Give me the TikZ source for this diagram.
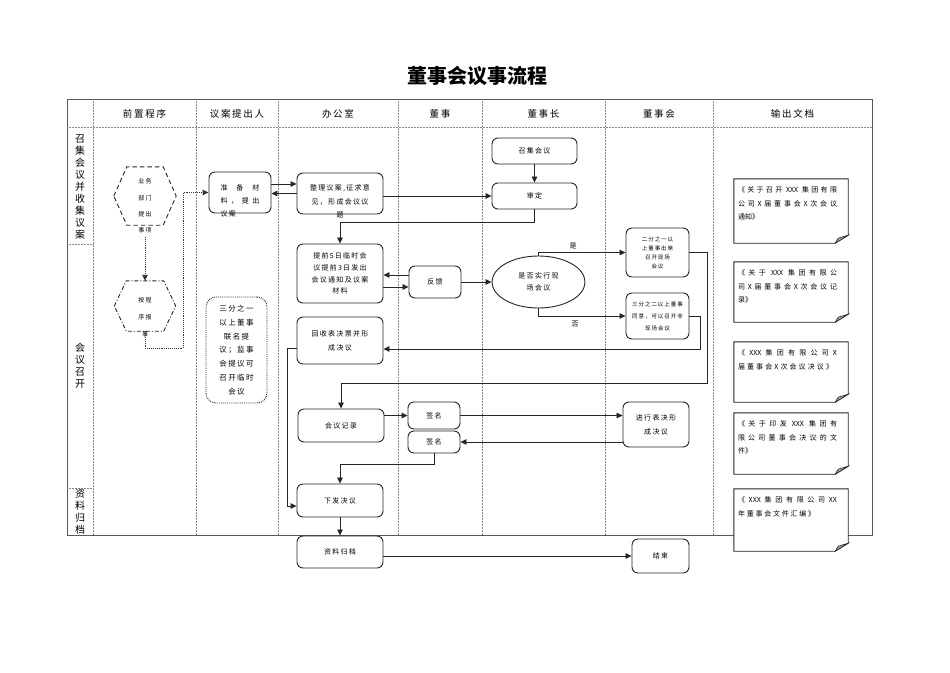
\documentclass[tikz,border=0pt]{standalone}
\usepackage{fontspec}
\setmainfont{Noto Sans CJK SC}[LetterSpace=18]
\newfontfamily\nolsfont{Noto Sans CJK SC}
\usetikzlibrary{arrows.meta,shapes.geometric}
\makeatletter
\newcommand\spreadline[2]{\makebox[#1][s]{\spread@a#2\@nil}}
\def\spread@a#1#2\@nil{#1\ifx\relax#2\relax\else\hfill\spread@a#2\@nil\fi}
\makeatother
\newcommand\myfs[2]{\fontsize{#1}{#2}\selectfont}
\newcommand\docshape[1]{%
  \draw[black!85, line width=0.9pt, fill=white] (#1.north west) -- (#1.north east) -- ([yshift=8]#1.south east) -- ([xshift=-13]#1.south east) -- (#1.south west) -- cycle;
  \draw[black!85, line width=0.6pt, fill=black!35] ([yshift=8]#1.south east) -- ([xshift=-13]#1.south east) -- ([xshift=-10,yshift=5]#1.south east) -- cycle;}
\begin{document}
\begin{tikzpicture}[x=1pt,y=-1pt,
  gridline/.style={black!45, densely dotted, line width=0.5pt},
  framel/.style={draw=black!65, line width=1pt},
  box/.style={draw=black!85, rounded corners=6pt, line width=0.9pt, fill=white, inner sep=0pt, align=center, font=\myfs{7}{12}},
  txt/.style={inner sep=0pt, align=center, font=\myfs{7}{12}},
  conn/.style={draw=black!85, line width=0.8pt, -{Triangle[length=6pt,width=5.5pt]}},
  dotconn/.style={draw=black!80, densely dotted, line width=0.9pt, -{Triangle[length=6pt,width=5.5pt]}},
  docnode/.style={inner sep=0pt, minimum width=114},
  doctext/.style={inner sep=0pt, align=left, font=\nolsfont\myfs{7}{13.5}, anchor=north west},
  head/.style={font=\myfs{9.5}{11}, inner sep=0pt},
  rowlab/.style={font=\myfs{10}{12}, inner sep=0pt, align=center},
]
\fill[white] (0,0) rectangle (950,672);
\useasboundingbox (0,0) rectangle (950,672);

% title
\node[font=\nolsfont\bfseries\myfs{20}{24}] (title) at (477,76) {董事会议事流程};

% grid
\foreach \x in {93,196,278,398,482,605,713} \draw[gridline] (\x,99) -- (\x,535);
\draw[gridline] (67,127) -- (872,127);
\draw[gridline] (67,244) -- (93,244);
\draw[gridline] (67,488) -- (93,488);
\draw[framel] (67,99) rectangle (872,535);

% headers
\node[head] (hd1) at (144.5,114) {前置程序};
\node[head] (hd2) at (237,114) {议案提出人};
\node[head] (hd3) at (338,114) {办公室};
\node[head] (hd4) at (440,114) {董事};
\node[head] (hd5) at (543.5,114) {董事长};
\node[head] (hd6) at (659,114) {董事会};
\node[head] (hd7) at (792.5,114) {输出文档};

% row labels
\node[rowlab] (r1) at (80,187) {召\\集\\会\\议\\并\\收\\集\\议\\案};
\node[rowlab] (r2) at (80,366) {会\\议\\召\\开};
\node[rowlab] (r3) at (80,512) {资\\料\\归\\档};

% hexagons
\node[inner sep=0pt, minimum width=62, minimum height=58] (h1) at (145,196) {};
\draw[black!85, dash pattern=on 4.5pt off 3pt, line width=0.9pt] (h1.west) -- ([xshift=13]h1.north west) -- ([xshift=-13]h1.north east) -- (h1.east) -- ([xshift=-13]h1.south east) -- ([xshift=13]h1.south west) -- cycle;
\node[txt, font=\myfs{6}{16.3}] (h1t) at (145,206) {业务\\部门\\提出\\事项};
\node[inner sep=0pt, minimum width=61, minimum height=50] (h2) at (145,306) {};
\draw[black!85, dash pattern=on 4pt off 2pt on 1pt off 2pt, line width=0.9pt] (h2.west) -- ([xshift=12]h2.north west) -- ([xshift=-12]h2.north east) -- (h2.east) -- ([xshift=-12]h2.south east) -- ([xshift=12]h2.south west) -- cycle;
\node[txt, font=\myfs{6}{17}] (h2t) at (145,317) {按程\\序报\\事};

% boxes
\node[box, minimum width=62, minimum height=41] (prep) at (240,192.5) {};
\node[txt, align=left, font=\myfs{7}{13}] (prept) at (240,200.5) {\spreadline{39pt}{准备材}\\\spreadline{39pt}{料，提出}\\议案};
\node[box, minimum width=86, minimum height=41] (sort) at (340,193.5) {};
\node[txt, font=\myfs{7}{13.5}] (sortt) at (340,201.5) {整理议案,征求意\\见，形成会议议\\题};
\node[box, minimum width=85, minimum height=26] (zhaoji) at (534.5,151) {召集会议};
\node[box, minimum width=85, minimum height=26] (shending) at (534.5,196) {审定};
\node[box, minimum width=86, minimum height=59, font=\myfs{7}{11.7}] (notify) at (340,273.5) {提前5日临时会\\议提前3日发出\\会议通知及议案\\材料};
\node[box, minimum width=52, minimum height=32] (fankui) at (435,282) {反馈};
\node[draw=black!85, ellipse, line width=0.9pt, fill=white, minimum width=93, minimum height=52, inner sep=0pt, align=center, font=\myfs{7}{12}] (ell) at (538.5,282) {是否实行现\\场会议};
\node[box, minimum width=63, minimum height=49, font=\myfs{5.5}{9}] (shi) at (657.5,252.5) {二分之一以\\上董事出席\\召开现场\\会议};
\node[box, minimum width=63, minimum height=46, font=\myfs{5.5}{12}] (fou) at (657.5,316) {三分之二以上董事\\同意，可以召开非\\现场会议};
\node[box, minimum width=86, minimum height=47, font=\myfs{7}{14}] (huishou) at (340,340.5) {回收表决票并形\\成决议};
\node[box, densely dotted, rounded corners=10pt, minimum width=61, minimum height=106, font=\myfs{7.5}{13.8}] (sanfen) at (236.5,350) {三分之一\\以上董事\\联名提\\议；监事\\会提议可\\召开临时\\会议};
\node[box, minimum width=86, minimum height=33] (jilu) at (341,425.5) {会议记录};
\node[box, minimum width=52, minimum height=27] (qm1) at (434,415.5) {签名};
\node[box, minimum width=52, minimum height=22] (qm2) at (434,442) {签名};
\node[box, minimum width=66, minimum height=45, font=\myfs{7}{14}] (biaojue) at (656,424.5) {进行表决形\\成决议};
\node[box, minimum width=86, minimum height=33] (xiafa) at (340,500.5) {下发决议};
\node[box, minimum width=86, minimum height=32] (ziliao) at (340,552) {资料归档};
\node[box, minimum width=57, minimum height=34] (jieshu) at (660.5,556) {结束};

\node[txt] (yes) at (573,246) {是};
\node[txt] (no) at (575,324) {否};

% documents
\node[docnode, minimum height=64] (d1) at (791,211) {};
\node[docnode, minimum height=60] (d2) at (791,292) {};
\node[docnode, minimum height=60] (d3) at (791,372) {};
\node[docnode, minimum height=61] (d4) at (791,443.5) {};
\node[docnode, minimum height=62] (d5) at (791,520) {};
\docshape{d1}\docshape{d2}\docshape{d3}\docshape{d4}\docshape{d5}
\node[doctext] (d1t) at ([xshift=4,yshift=-8]d1.north west) {\spreadline{99pt}{《关于召开{ XXX }集团有限}\\\spreadline{99pt}{公司X届董事会X次会议}\\通知》};
\node[doctext] (d2t) at ([xshift=4,yshift=-8]d2.north west) {\spreadline{99pt}{《关于{ XXX }集团有限公}\\\spreadline{99pt}{司X届董事会X次会议记}\\录》};
\node[doctext] (d3t) at ([xshift=4,yshift=-8]d3.north west) {\spreadline{99pt}{《{XXX}集团有限公司X}\\\spreadline{95pt}{届董事会X次会议决议》}};
\node[doctext] (d4t) at ([xshift=4,yshift=-8]d4.north west) {\spreadline{99pt}{《关于印发{ XXX }集团有}\\\spreadline{99pt}{限公司董事会决议的文}\\件》};
\node[doctext] (d5t) at ([xshift=4,yshift=-8]d5.north west) {\spreadline{99pt}{《{XXX}集团有限公司{XX}{}}\\\spreadline{77pt}{年董事会文件汇编》}};

% connectors
\coordinate (h1b) at (145,237);
\draw[dotconn] (h1b) -- (h2.north);
\coordinate (c1) at (183,348);
\draw[dotconn] (h2.south) |- (c1) |- (prep.west);
\coordinate (p1) at ([yshift=8.5]prep.east);
\draw[conn] (p1) -- (p1 -| sort.west);
\coordinate (p2) at (sort.west);
\draw[conn] (p2) -- (p2 -| prep.east);
\draw[conn] (sort.east |- shending.west) -- (shending.west);
\draw[conn] (zhaoji) -- (shending);
\coordinate (c2) at (534.5,222);
\draw[conn] (shending.south) -- (c2) -| (notify.north);
\coordinate (f1) at ([yshift=7]fankui.west);
\draw[conn] (f1) -- (f1 -| notify.east);
\coordinate (f2) at ([yshift=-5]fankui.west);
\draw[conn] (f2 -| notify.east) -- (f2);
\draw[conn] (fankui) -- (ell);
\draw[conn] (ell.north) |- (shi.west);
\draw[conn] (ell.south) |- (fou.west);
\coordinate (c3) at (707,383);
\draw[conn] (shi.east) -| (c3) -| (jilu.north);
\coordinate (c4) at (700,349);
\draw[conn] (fou.east) -| (c4) -- (c4 -| huishou.east);
\coordinate (c5) at (287,348);
\coordinate (c6) at (287,506);
\draw[conn] (c5 -| huishou.west) -- (c5) -- (c6) -- (c6 -| xiafa.west);
\draw[conn] (jilu.east |- qm1.west) -- (qm1.west);
\draw[conn] (qm1.east) -- (qm1.east -| biaojue.west);
\draw[conn] (qm2.east -| biaojue.west) -- (qm2.east);
\coordinate (c7) at (434,464);
\draw[conn] (qm2.south) -- (c7) -| (xiafa.north);
\draw[conn] (xiafa) -- (ziliao);
\draw[conn] (ziliao.east |- jieshu.west) -- (jieshu.west);
\end{tikzpicture}
\end{document}
